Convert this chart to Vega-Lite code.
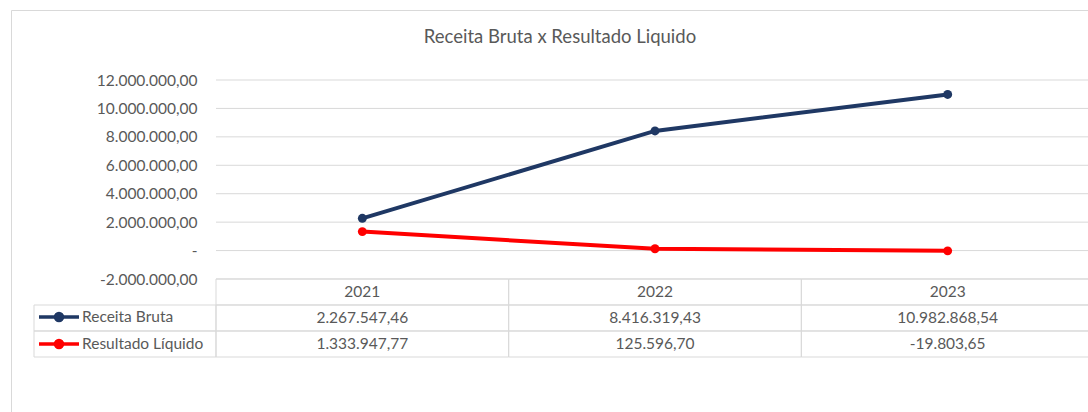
{
  "$schema": "https://vega.github.io/schema/vega-lite/v6.json",
  "width": 1098,
  "height": 420,
  "autosize": {"type": "none"},
  "padding": {"left": 11, "top": 10, "right": 0, "bottom": 0},
  "background": "white",
  "title": {"text": "Receita Bruta x Resultado Liquido", "anchor": "middle", "baseline": "middle", "offset": -45, "fontSize": 18.5, "font": "Lato", "fontWeight": "normal", "color": "#595959"},
  "config": {
    "locale": {"number": {"decimal": ",", "thousands": ".", "grouping": [3], "currency": ["R$", ""], "minus": "-"}},
    "view": {"stroke": "#d9d9d9", "strokeWidth": 1},
    "font": "Lato"
  },
  "datasets": {
    "dados": [
      {"ano": "2021", "serie": "Receita Bruta", "valor": 2267547.46},
      {"ano": "2022", "serie": "Receita Bruta", "valor": 8416319.43},
      {"ano": "2023", "serie": "Receita Bruta", "valor": 10982868.54},
      {"ano": "2021", "serie": "Resultado Líquido", "valor": 1333947.77},
      {"ano": "2022", "serie": "Resultado Líquido", "valor": 125596.70},
      {"ano": "2023", "serie": "Resultado Líquido", "valor": -19803.65}
    ],
    "grade": [
      {"v": -2000000}, {"v": 0}, {"v": 2000000}, {"v": 4000000},
      {"v": 6000000}, {"v": 8000000}, {"v": 10000000}, {"v": 12000000}
    ]
  },
  "resolve": {"scale": {"x": "independent", "y": "independent"}},
  "layer": [
    {
      "data": {"name": "grade"},
      "mark": {"type": "rule", "color": "#d9d9d9", "strokeWidth": 1},
      "encoding": {
        "x": {"datum": 0, "type": "quantitative", "scale": {"domain": [0, 1], "range": [205, 1083], "nice": false, "zero": false}, "axis": null},
        "x2": {"datum": 1},
        "y": {"field": "v", "type": "quantitative", "scale": {"domain": [-2000000, 12000000], "range": [269, 70], "nice": false, "zero": false}, "axis": null}
      }
    },
    {
      "data": {"name": "dados"},
      "transform": [{"filter": "datum.serie == 'Receita Bruta'"}],
      "mark": {"type": "rect", "fill": "transparent", "stroke": "#d9d9d9", "strokeWidth": 1},
      "encoding": {
        "x": {"field": "ano", "type": "nominal", "scale": {"type": "band", "domain": ["2021", "2022", "2023"], "range": [205, 1083], "paddingInner": 0, "paddingOuter": 0}, "axis": null},
        "y": {"datum": "ano", "type": "nominal", "scale": {"type": "band", "domain": ["ano", "Receita Bruta", "Resultado Líquido"], "range": [269, 347], "paddingInner": 0, "paddingOuter": 0}, "axis": null}
      }
    },
    {
      "data": {"name": "dados"},
      "mark": {"type": "rect", "fill": "transparent", "stroke": "#d9d9d9", "strokeWidth": 1},
      "encoding": {
        "x": {"field": "ano", "type": "nominal", "scale": {"type": "band", "domain": ["2021", "2022", "2023"], "range": [205, 1083], "paddingInner": 0, "paddingOuter": 0}, "axis": null},
        "y": {"field": "serie", "type": "nominal", "scale": {"type": "band", "domain": ["ano", "Receita Bruta", "Resultado Líquido"], "range": [269, 347], "paddingInner": 0, "paddingOuter": 0}, "axis": null}
      }
    },
    {
      "data": {"name": "dados"},
      "transform": [{"filter": "datum.ano == '2021'"}],
      "mark": {"type": "rect", "fill": "transparent", "stroke": "#d9d9d9", "strokeWidth": 1},
      "encoding": {
        "x": {"datum": "lbl", "type": "nominal", "scale": {"type": "band", "domain": ["lbl"], "range": [23, 205], "paddingInner": 0, "paddingOuter": 0}, "axis": null},
        "y": {"field": "serie", "type": "nominal", "scale": {"type": "band", "domain": ["ano", "Receita Bruta", "Resultado Líquido"], "range": [269, 347], "paddingInner": 0, "paddingOuter": 0}, "axis": null}
      }
    },
    {
      "data": {"name": "dados"},
      "transform": [{"filter": "datum.serie == 'Receita Bruta'"}],
      "mark": {"type": "text", "font": "Lato", "fontSize": 15.5, "color": "#595959", "align": "center", "baseline": "middle"},
      "encoding": {
        "x": {"field": "ano", "type": "nominal", "scale": {"type": "band", "domain": ["2021", "2022", "2023"], "range": [205, 1083], "paddingInner": 0, "paddingOuter": 0}, "axis": null},
        "y": {"datum": "ano", "type": "nominal", "scale": {"type": "band", "domain": ["ano", "Receita Bruta", "Resultado Líquido"], "range": [269, 347], "paddingInner": 0, "paddingOuter": 0}, "axis": null},
        "text": {"field": "ano", "type": "nominal"}
      }
    },
    {
      "data": {"name": "dados"},
      "mark": {"type": "text", "font": "Lato", "fontSize": 15.5, "color": "#595959", "align": "center", "baseline": "middle"},
      "encoding": {
        "x": {"field": "ano", "type": "nominal", "scale": {"type": "band", "domain": ["2021", "2022", "2023"], "range": [205, 1083], "paddingInner": 0, "paddingOuter": 0}, "axis": null},
        "y": {"field": "serie", "type": "nominal", "scale": {"type": "band", "domain": ["ano", "Receita Bruta", "Resultado Líquido"], "range": [269, 347], "paddingInner": 0, "paddingOuter": 0}, "axis": null},
        "text": {"field": "valor", "type": "quantitative", "format": ",.2f"}
      }
    },
    {
      "data": {"name": "dados"},
      "mark": {"type": "line", "strokeWidth": 4, "point": {"filled": true, "size": 80}},
      "encoding": {
        "x": {"field": "ano", "type": "nominal", "bandPosition": 0.5, "scale": {"type": "band", "domain": ["2021", "2022", "2023"], "range": [205, 1083], "paddingInner": 0, "paddingOuter": 0}, "axis": null},
        "y": {"field": "valor", "type": "quantitative", "scale": {"domain": [-2000000, 12000000], "range": [269, 70], "nice": false, "zero": false},
          "axis": {"orient": "left", "offset": -205, "values": [-2000000, 0, 2000000, 4000000, 6000000, 8000000, 10000000, 12000000], "format": ",.2f", "labelExpr": "datum.value == 0 ? '-   ' : datum.label", "domain": false, "ticks": false, "grid": false, "labelPadding": 19, "labelFont": "Lato", "labelFontSize": 15.5, "labelColor": "#595959", "title": null}},
        "color": {"field": "serie", "type": "nominal", "scale": {"domain": ["Receita Bruta", "Resultado Líquido"], "range": ["#1f3864", "#ff0000"]},
          "legend": {"orient": "none", "legendX": 36, "legendY": 295, "title": null, "symbolType": "M-2,0H2M-0.35,0A0.35,0.35,0,1,1,0.35,0A0.35,0.35,0,1,1,-0.35,0", "symbolSize": 400, "symbolStrokeWidth": 3.5, "labelFont": "Lato", "labelFontSize": 15.5, "labelColor": "#595959", "labelOffset": 11, "rowPadding": 4, "padding": 0, "direction": "vertical"}}
      }
    }
  ]
}
